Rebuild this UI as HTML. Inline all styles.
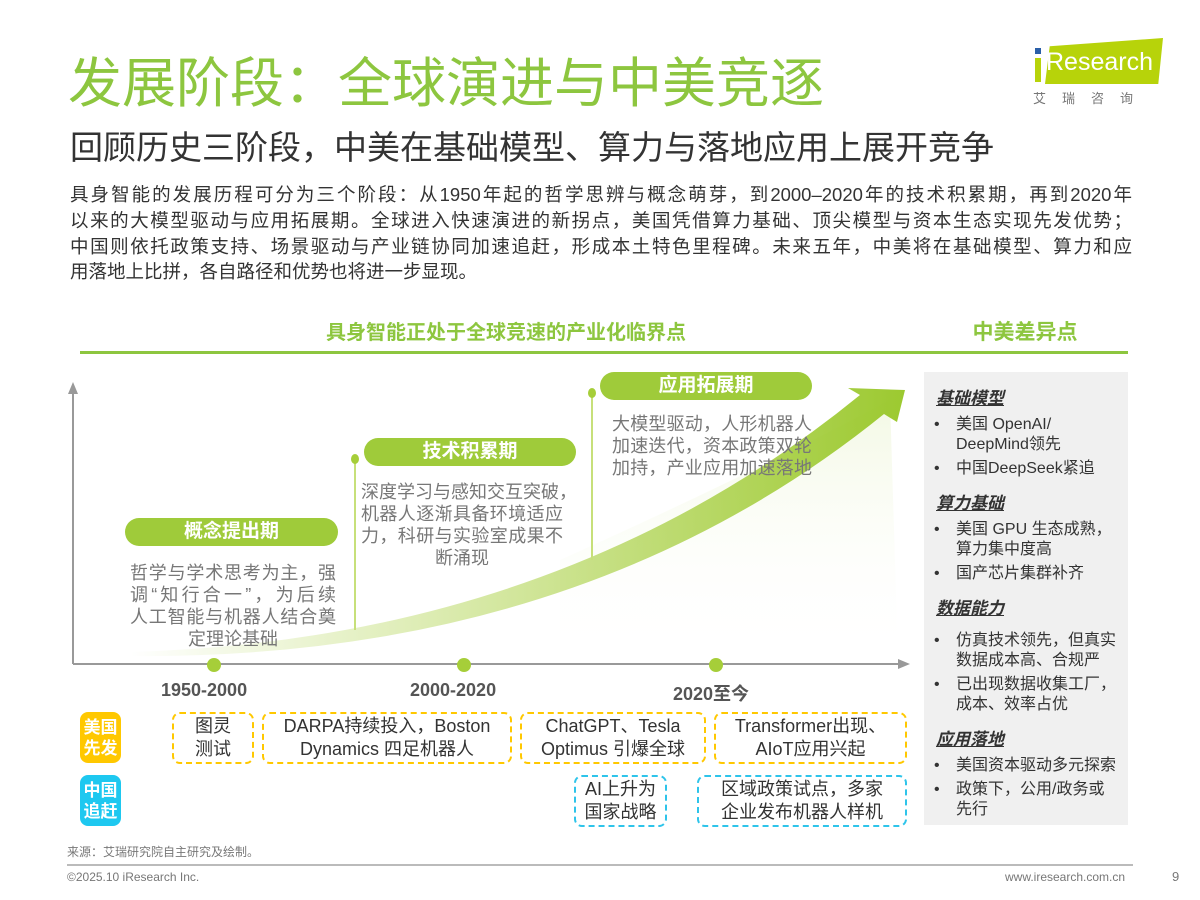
<!DOCTYPE html>
<html><head><meta charset="utf-8"><style>
body{margin:0;width:1200px;height:900px;background:#fff;font-family:"Liberation Sans","Noto Sans CJK SC",sans-serif;position:relative;overflow:hidden}
.a{position:absolute}
.j{display:block;text-align:justify;text-align-last:justify;white-space:nowrap}
.pill{position:absolute;background:#9fcb3a;border-radius:16px;color:#fff;font-weight:bold;font-size:19px;text-align:center;line-height:28px}
.desc{position:absolute;color:#777;font-size:18px;line-height:22px}
.yr{position:absolute;color:#555;font-weight:bold;font-size:18px;top:680px}
.tag{position:absolute;border-radius:8px;color:#fff;font-weight:bold;font-size:17px;line-height:21px;text-align:center;width:41px;padding-top:5px;height:46px;left:80px}
.db{position:absolute;border:2px dashed #ffc800;border-radius:8px;color:#333;font-size:18px;line-height:23px;text-align:center;display:flex;align-items:center;justify-content:center;box-sizing:border-box;height:52px;white-space:nowrap}
.cb{border-color:#2ec4ea}
.rh{font-weight:bold;font-style:italic;text-decoration:underline;color:#333;font-size:17px;margin:10px 0 6px 12px}
.li{font-size:16px;color:#333;line-height:20px;padding-left:32px;position:relative;margin-bottom:4px;white-space:nowrap}
.li:before{content:"•";position:absolute;left:10px}
</style></head><body>
<div class="a" style="left:68px;top:52px;font-size:54px;line-height:64px;color:#8dc63f;white-space:nowrap">发展阶段：全球演进与中美竞逐</div>
<div class="a" style="left:70px;top:128px;font-size:33px;line-height:40px;color:#333;white-space:nowrap">回顾历史三阶段，中美在基础模型、算力与落地应用上展开竞争</div>
<div class="a" style="left:1033px;top:40px;width:12px;height:42px"><div style="position:absolute;left:2px;top:8px;width:6px;height:6px;background:#2a5fa8"></div><div style="position:absolute;left:2px;top:18px;width:6px;height:24px;background:#b7d30a"></div></div>
<div class="a" style="left:1045px;top:38px;width:118px;height:46px;background:#b7d30a;clip-path:polygon(4% 18%,100% 0,96% 100%,0 100%)"></div>
<div class="a" style="left:1046px;top:48px;font-size:25px;color:#fff">Research</div>
<div class="a" style="left:1033px;top:88px;font-size:13px;color:#777;letter-spacing:16px">艾瑞咨询</div>
<div class="a" style="left:70px;top:182px;width:1062px;font-size:18.5px;line-height:25.8px;color:#333">
<span class="j">具身智能的发展历程可分为三个阶段：从1950年起的哲学思辨与概念萌芽，到2000–2020年的技术积累期，再到2020年</span>
<span class="j">以来的大模型驱动与应用拓展期。全球进入快速演进的新拐点，美国凭借算力基础、顶尖模型与资本生态实现先发优势；</span>
<span class="j">中国则依托政策支持、场景驱动与产业链协同加速追赶，形成本土特色里程碑。未来五年，中美将在基础模型、算力和应</span>
<span>用落地上比拼，各自路径和优势也将进一步显现。</span></div>
<div class="a" style="left:80px;top:316px;width:852px;text-align:center;font-size:20px;font-weight:bold;color:#8dc63f">具身智能正处于全球竞速的产业化临界点</div>
<div class="a" style="left:80px;top:351px;width:852px;height:3px;background:#8dc63f"></div>
<div class="a" style="left:922px;top:316px;width:206px;text-align:center;font-size:21px;font-weight:bold;color:#8dc63f">中美差异点</div>
<div class="a" style="left:922px;top:351px;width:206px;height:3px;background:#8dc63f"></div>
<svg class="a" style="left:0;top:0" width="1200" height="900">
<defs><linearGradient id="g" x1="0" x2="1" y1="0" y2="0"><stop offset="0" stop-color="#a6ce39" stop-opacity="0"/><stop offset="0.35" stop-color="#a6ce39" stop-opacity="0.35"/><stop offset="1" stop-color="#9cc930"/></linearGradient>
<linearGradient id="g2" x1="0" x2="0" y1="0" y2="1"><stop offset="0" stop-color="#e6f1c6" stop-opacity="0.8"/><stop offset="1" stop-color="#fff" stop-opacity="0"/></linearGradient></defs>
<path d="M560 560 Q760 470 890 400 L898 660 L560 660Z" fill="url(#g2)" opacity="0.6"/>
<path d="M130 652 Q560 640 860 395 L848 388 L905 390 L897 422 L884 414 Q580 660 130 656Z" fill="url(#g)"/>
<line x1="73" y1="664" x2="73" y2="390" stroke="#999" stroke-width="2"/>
<polygon points="73,382 68,394 78,394" fill="#999"/>
<line x1="73" y1="664" x2="900" y2="664" stroke="#999" stroke-width="2"/>
<polygon points="910,664 898,659 898,669" fill="#999"/>
<circle cx="214" cy="665" r="7" fill="#a6ce39"/><circle cx="464" cy="665" r="7" fill="#a6ce39"/><circle cx="716" cy="665" r="7" fill="#a6ce39"/>
<line x1="355" y1="460" x2="355" y2="630" stroke="#c7e07a" stroke-width="2"/><ellipse cx="355" cy="459" rx="4" ry="5" fill="#a6ce39"/>
<line x1="592" y1="394" x2="592" y2="560" stroke="#c7e07a" stroke-width="2"/><ellipse cx="592" cy="393" rx="4" ry="5" fill="#a6ce39"/>
</svg>
<div class="pill" style="left:125px;top:518px;width:213px">概念提出期</div>
<div class="pill" style="left:364px;top:438px;width:212px">技术积累期</div>
<div class="pill" style="left:600px;top:372px;width:212px">应用拓展期</div>
<div class="desc" style="left:130px;top:562px;width:206px;text-align:center"><span class="j">哲学与学术思考为主，强</span><span class="j">调“知行合一”，为后续</span><span class="j">人工智能与机器人结合奠</span><span>定理论基础</span></div>
<div class="desc" style="left:361px;top:481px;width:202px;text-align:center"><span class="j">深度学习与感知交互突破，</span><span class="j">机器人逐渐具备环境适应</span><span class="j">力，科研与实验室成果不</span><span>断涌现</span></div>
<div class="desc" style="left:612px;top:413px;width:200px"><span class="j">大模型驱动，人形机器人</span><span class="j">加速迭代，资本政策双轮</span><span class="j">加持，产业应用加速落地</span></div>
<div class="yr" style="left:161px">1950-2000</div>
<div class="yr" style="left:410px">2000-2020</div>
<div class="yr" style="left:673px">2020至今</div>
<div class="tag" style="top:712px;background:#ffc800">美国先发</div>
<div class="tag" style="top:775px;background:#1ec8f0">中国追赶</div>
<div class="db" style="left:172px;top:712px;width:82px">图灵<br>测试</div>
<div class="db" style="left:262px;top:712px;width:250px">DARPA持续投入，Boston<br>Dynamics 四足机器人</div>
<div class="db" style="left:520px;top:712px;width:186px">ChatGPT、Tesla<br>Optimus 引爆全球</div>
<div class="db" style="left:714px;top:712px;width:193px">Transformer出现、<br>AIoT应用兴起</div>
<div class="db cb" style="left:574px;top:775px;width:93px">AI上升为<br>国家战略</div>
<div class="db cb" style="left:697px;top:775px;width:210px">区域政策试点，多家<br>企业发布机器人样机</div>
<div class="a" style="left:924px;top:372px;width:204px;height:453px;background:#f0f0f0">
<div class="rh" style="margin-top:12px">基础模型</div>
<div class="li">美国 OpenAI/<br>DeepMind领先</div><div class="li">中国DeepSeek紧追</div>
<div class="rh">算力基础</div>
<div class="li">美国 GPU 生态成熟，<br>算力集中度高</div><div class="li">国产芯片集群补齐</div>
<div class="rh" style="margin-bottom:12px">数据能力</div>
<div class="li">仿真技术领先，但真实<br>数据成本高、合规严</div><div class="li">已出现数据收集工厂，<br>成本、效率占优</div>
<div class="rh">应用落地</div>
<div class="li">美国资本驱动多元探索</div><div class="li">政策下，公用/政务或<br>先行</div>
</div>
<div class="a" style="left:67px;top:843px;font-size:12px;color:#777">来源：艾瑞研究院自主研究及绘制。</div>
<div class="a" style="left:67px;top:864px;width:1066px;height:2px;background:#bbb"></div>
<div class="a" style="left:67px;top:870px;font-size:12px;color:#777">©2025.10 iResearch Inc.</div>
<div class="a" style="left:1005px;top:870px;font-size:12px;color:#777">www.iresearch.com.cn</div>
<div class="a" style="left:1172px;top:869px;font-size:13px;color:#777">9</div>
</body></html>
